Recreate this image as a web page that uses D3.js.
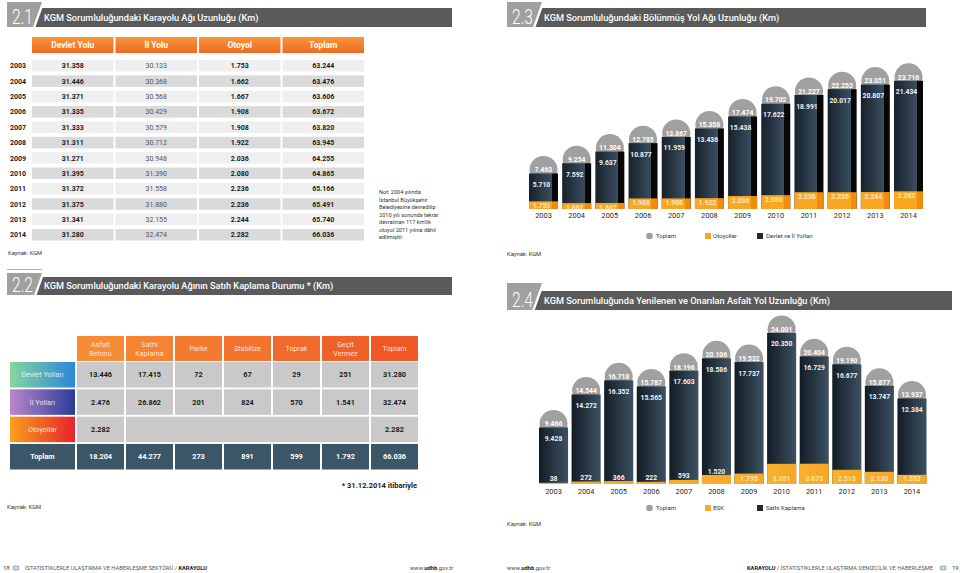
<!DOCTYPE html>
<html><head><meta charset="utf-8">
<script src="https://cdn.jsdelivr.net/npm/d3@7"></script>
<style>
html,body{margin:0;padding:0;background:#fff;}
svg{display:block;font-family:Roboto,"Open Sans",sans-serif;}
</style></head><body>
<svg id="c" width="960" height="573"></svg>
<script>
// ---------- DATA ----------
const years = [2003, 2004, 2005, 2006, 2007, 2008, 2009, 2010, 2011, 2012, 2013, 2014];

// 2.1 Karayolu ağı uzunluğu (km)
const table21Cols = ["Devlet Yolu", "İl Yolu", "Otoyol", "Toplam"];
const devletYolu = [31358, 31446, 31371, 31335, 31333, 31311, 31271, 31395, 31372, 31375, 31341, 31280];
const ilYolu     = [30133, 30368, 30568, 30429, 30579, 30712, 30948, 31390, 31558, 31880, 32155, 32474];
const otoyol     = [1753, 1662, 1667, 1908, 1908, 1922, 2036, 2080, 2236, 2236, 2244, 2282];
const toplam21   = [63244, 63476, 63606, 63672, 63820, 63945, 64255, 64865, 65166, 65491, 65740, 66036];
const note21 = ["Not: 2004 yılında", "İstanbul Büyükşehir", "Belediyesine devredilip", "2010 yılı sonunda tekrar",
  "devralınan 117 km'lik", "otoyol 2011 yılına dâhil", "edilmiştir."];

// 2.2 Satıh kaplama durumu
const surfaceCols = [["Asfalt", "Betonu"], ["Sathi", "Kaplama"], ["Parke"], ["Stabilize"], ["Toprak"], ["Geçit", "Vermez"], ["Toplam"]];
const surfaceRows = ["Devlet Yolları", "İl Yolları", "Otoyollar", "Toplam"];
const devletSurface = [13446, 17415, 72, 67, 29, 251, 31280];
const ilSurface     = [2476, 26862, 201, 824, 570, 1541, 32474];
const otoyolSurface = [2282, null, null, null, null, null, 2282];
const toplamSurface = [18204, 44277, 273, 891, 599, 1792, 66036];

// 2.3 Bölünmüş yol ağı uzunluğu
const bolToplam   = [7463, 9254, 11304, 12785, 13867, 15358, 17474, 19702, 21227, 22253, 23051, 23716];
const bolDevletIl = [5710, 7592, 9637, 10877, 11959, 13436, 15438, 17622, 18991, 20017, 20807, 21434];
const bolOtoyol   = [1753, 1662, 1667, 1908, 1908, 1922, 2036, 2080, 2236, 2236, 2244, 2282];
const legend23 = ["Toplam", "Otoyollar", "Devlet ve İl Yolları"];

// 2.4 Yenilenen ve onarılan asfalt yol
const asfToplam = [9466, 14544, 16718, 15787, 18196, 20106, 19532, 24001, 20404, 19190, 15877, 13937];
const asfSathi  = [9428, 14272, 16352, 15565, 17603, 18586, 17737, 20350, 16729, 16677, 13747, 12384];
const asfBSK    = [38, 272, 366, 222, 593, 1520, 1795, 3651, 3675, 2513, 2130, 1553];
const legend24 = ["Toplam", "BSK", "Sathi Kaplama"];

// ---------- SETUP ----------
const svg = d3.select("#c");
const fmt = d3.formatLocale({decimal: ",", thousands: ".", grouping: [3], currency: ["", ""]}).format(",d");
const defs = svg.append("defs");
function grad(id, stops, x2 = 1, y2 = 0) {
  const g = defs.append("linearGradient").attr("id", id).attr("x1", 0).attr("y1", 0).attr("x2", x2).attr("y2", y2);
  stops.forEach(s => g.append("stop").attr("offset", s[0]).attr("stop-color", s[1]));
}
grad("hdrOrange", [[0, "#f7953b"], [1, "#ee6b22"]], 0, 1);
grad("gDevlet", [[0, "#86d59f"], [1, "#2a87d9"]]);
grad("gIl", [[0, "#bb86cb"], [1, "#283d99"]]);
grad("gOto", [[0, "#f7a01d"], [1, "#e7232b"]]);
grad("dark3", [[0, "#17212b"], [0.79, "#3a4e60"], [0.79, "#070707"], [1, "#070707"]]);
grad("orange3", [[0, "#f9a720"], [0.79, "#f9a720"], [0.79, "#f28a0f"], [1, "#f28a0f"]]);
grad("dark4", [[0, "#131c25"], [1, "#3c5163"]]);
grad("orange4", [[0, "#f9b030"], [1, "#f6a726"]]);

function header(x0, x1, yBox, yBar, yBot, num, title) {
  const s = 0.36, xb = x0 + 35, gap = 2.5;
  svg.append("polygon")
    .attr("points", [[x0, yBox], [xb, yBox], [xb - s * (yBot - yBox), yBot], [x0, yBot]].join(" "))
    .attr("fill", "#a0a0a0");
  svg.append("polygon")
    .attr("points", [[xb - s * (yBar - yBox) + gap, yBar], [x1, yBar], [x1, yBot], [xb - s * (yBot - yBox) + gap, yBot]].join(" "))
    .attr("fill", "#5a5a5a");
  svg.append("text").attr("x", x0 + 5).attr("y", yBot - 3)
    .attr("font-size", 20).attr("font-weight", 300).attr("fill", "#fff")
    .attr("textLength", 21).attr("lengthAdjust", "spacingAndGlyphs").text(num);
  svg.append("text").attr("x", x0 + 37).attr("y", yBar + (yBot - yBar) / 2 + 3.3)
    .attr("font-size", 9.2).attr("font-weight", 500).attr("fill", "#fff").text(title);
}
function smallText(x, y, t, opts = {}) {
  return svg.append("text").attr("x", x).attr("y", y).attr("font-size", opts.size || 6)
    .attr("fill", opts.fill || "#333").attr("text-anchor", opts.anchor || "start")
    .attr("font-weight", opts.weight || 400).text(t);
}

// ---------- 2.1 TABLE ----------
header(7, 452, 2, 8, 27, "2.1", "KGM Sorumluluğundaki Karayolu Ağı Uzunluğu (Km)");
{
  const xc = d3.scaleBand().domain(table21Cols).range([32, 364]).paddingInner(0.024);
  const yr = d3.scaleBand().domain(years).range([60, 240.5]).paddingInner(0.25);
  const g = svg.append("g");
  g.selectAll("rect.h").data(table21Cols).join("rect").attr("class", "h")
    .attr("x", d => xc(d)).attr("y", 37).attr("width", xc.bandwidth()).attr("height", 16)
    .attr("fill", "url(#hdrOrange)");
  g.selectAll("text.h").data(table21Cols).join("text").attr("class", "h")
    .attr("x", d => xc(d) + xc.bandwidth() / 2).attr("y", 48).attr("text-anchor", "middle")
    .attr("font-size", 8.5).attr("font-weight", 700).attr("fill", "#fff").text(d => d);
  const cols = [devletYolu, ilYolu, otoyol, toplam21];
  years.forEach((y, i) => {
    const row = g.append("g");
    row.append("text").attr("x", 10).attr("y", yr(y) + yr.bandwidth() / 2 + 2.6)
      .attr("font-size", 7).attr("font-weight", 700).attr("fill", "#1a1a1a").text(y);
    table21Cols.forEach((c, j) => {
      row.append("rect").attr("x", xc(c)).attr("y", yr(y)).attr("width", xc.bandwidth()).attr("height", yr.bandwidth())
        .attr("fill", i % 2 === 0 ? "#efefef" : "#dadada");
      row.append("text").attr("x", xc(c) + xc.bandwidth() / 2).attr("y", yr(y) + yr.bandwidth() / 2 + 2.6)
        .attr("text-anchor", "middle").attr("font-size", 7)
        .attr("font-weight", j === 1 ? 400 : 700).attr("fill", j === 1 ? "#555" : "#1a1a1a")
        .text(fmt(cols[j][i]));
    });
  });
  note21.forEach((t, i) => smallText(379, 194 + i * 7.5, t, {size: 5.6}));
  smallText(8, 255, "Kaynak: KGM", {size: 5.8});
  svg.append("line").attr("x1", 7).attr("x2", 42).attr("y1", 269.5).attr("y2", 269.5).attr("stroke", "#9a9a9a").attr("stroke-width", 0.8);
}

// ---------- 2.2 TABLE ----------
header(7, 452, 273, 277, 295, "2.2", "KGM Sorumluluğundaki Karayolu Ağının Satıh Kaplama Durumu * (Km)");
{
  const colKeys = surfaceCols.map(c => c.join(" "));
  const xc = d3.scaleBand().domain(colKeys).range([77, 418]).paddingInner(0.041);
  const yr = d3.scaleBand().domain(surfaceRows).range([362, 469.5]).paddingInner(0.066);
  const hdrColor = d3.interpolateRgb("#f68c35", "#ee5826");
  const g = svg.append("g");
  colKeys.forEach((k, j) => {
    g.append("rect").attr("x", xc(k)).attr("y", 336).attr("width", xc.bandwidth()).attr("height", 25)
      .attr("fill", hdrColor(j / 6));
    const lines = surfaceCols[j];
    lines.forEach((l, li) => {
      g.append("text").attr("x", xc(k) + xc.bandwidth() / 2)
        .attr("y", lines.length === 1 ? 351 : 347 + li * 8.5)
        .attr("text-anchor", "middle").attr("font-size", 7.2).attr("fill", "#fde2cd").text(l);
    });
  });
  const rowFill = ["url(#gDevlet)", "url(#gIl)", "url(#gOto)", "#3b5667"];
  const rowData = [devletSurface, ilSurface, otoyolSurface, toplamSurface];
  surfaceRows.forEach((r, i) => {
    const last = i === 3;
    g.append("rect").attr("x", 10).attr("y", yr(r)).attr("width", 65).attr("height", yr.bandwidth()).attr("fill", rowFill[i]);
    g.append("text").attr("x", 42.5).attr("y", yr(r) + yr.bandwidth() / 2 + 2.6).attr("text-anchor", "middle")
      .attr("font-size", 7.3).attr("font-weight", last ? 700 : 400)
      .attr("fill", last ? "#fff" : "rgba(255,255,255,0.82)").text(r);
    const vals = rowData[i];
    if (i === 2) {
      const x0 = xc(colKeys[1]), x1 = xc(colKeys[5]) + xc.bandwidth();
      g.append("rect").attr("x", x0).attr("y", yr(r)).attr("width", x1 - x0).attr("height", yr.bandwidth()).attr("fill", "#c9c9c9");
    }
    vals.forEach((v, j) => {
      if (v === null) return;
      g.append("rect").attr("x", xc(colKeys[j])).attr("y", yr(r)).attr("width", xc.bandwidth()).attr("height", yr.bandwidth())
        .attr("fill", last ? "#3b5667" : "#c9c9c9");
      g.append("text").attr("x", xc(colKeys[j]) + xc.bandwidth() / 2).attr("y", yr(r) + yr.bandwidth() / 2 + 2.6)
        .attr("text-anchor", "middle").attr("font-size", 7.3).attr("font-weight", 700)
        .attr("fill", last ? "#fff" : "#1a1a1a").text(fmt(v));
    });
  });
  smallText(417, 488, "* 31.12.2014 itibariyle", {size: 7.5, weight: 700, anchor: "end", fill: "#222"});
  smallText(7, 509, "Kaynak: KGM", {size: 5.8});
}

// ---------- generic bar chart ----------
function barChart(opt) {
  const x = d3.scaleBand().domain(years).range(opt.xRange).paddingInner(opt.pad);
  const g = svg.append("g");
  const cx = d => x(d) + x.bandwidth() / 2;
  g.selectAll("circle.t").data(years).join("circle").attr("class", "t")
    .attr("cx", d => cx(d)).attr("cy", (d, i) => opt.y(opt.total[i]) - 3.5).attr("r", 14).attr("fill", "#a0a0a0");
  g.selectAll("text.t").data(years).join("text").attr("class", "t")
    .attr("x", d => cx(d)).attr("y", (d, i) => opt.y(opt.total[i]) - 1.2).attr("text-anchor", "middle")
    .attr("font-size", 6.8).attr("font-weight", 700).attr("fill", "#fff").text((d, i) => fmt(opt.total[i]));
  g.selectAll("rect.d").data(years).join("rect").attr("class", "d")
    .attr("x", d => x(d)).attr("width", x.bandwidth())
    .attr("y", (d, i) => opt.y(opt.total[i])).attr("height", (d, i) => opt.base - opt.y(opt.total[i]))
    .attr("fill", opt.darkFill);
  g.selectAll("text.d").data(years).join("text").attr("class", "d")
    .attr("x", d => cx(d) - (opt.darkShift || 0)).attr("y", (d, i) => opt.y(opt.total[i]) + 13.5).attr("text-anchor", "middle")
    .attr("font-size", 6.8).attr("font-weight", 700).attr("fill", "#eef2f5").text((d, i) => fmt(opt.dark[i]));
  g.selectAll("rect.o").data(years).join("rect").attr("class", "o")
    .attr("x", d => x(d)).attr("width", x.bandwidth())
    .attr("y", (d, i) => opt.yo(opt.orange[i])).attr("height", (d, i) => opt.base - opt.yo(opt.orange[i]))
    .attr("fill", opt.orangeFill);
  g.selectAll("text.o").data(years).join("text").attr("class", "o")
    .attr("x", d => cx(d) - (opt.darkShift || 0)).attr("y", (d, i) => opt.orangeLabelY(opt.orange[i]))
    .attr("text-anchor", "middle").attr("font-size", 6.8).attr("font-weight", 700)
    .attr("fill", (d, i) => opt.orangeLabelFill(opt.orange[i])).text((d, i) => fmt(opt.orange[i]));
  const ax = g.append("g").attr("transform", `translate(0,${opt.base})`)
    .call(d3.axisBottom(x).tickSize(0).tickPadding(opt.yearPad));
  ax.select(".domain").remove();
  ax.selectAll("text").attr("font-size", 7.4).attr("fill", "#2a2a2a").attr("font-family", "Roboto,sans-serif");
  const L = g.append("g").attr("transform", `translate(0,${opt.legendY})`);
  L.append("circle").attr("cx", 649.5).attr("cy", 0).attr("r", 3.3).attr("fill", "#a0a0a0");
  L.append("text").attr("x", 656).attr("y", 2.2).attr("font-size", 6).attr("fill", "#333").text(opt.legend[0]);
  L.append("rect").attr("x", 705).attr("y", -3).attr("width", 6).attr("height", 6).attr("fill", opt.legendOrange);
  L.append("text").attr("x", 713).attr("y", 2.2).attr("font-size", 6).attr("fill", "#333").text(opt.legend[1]);
  L.append("rect").attr("x", 757).attr("y", -3).attr("width", 6).attr("height", 6).attr("fill", "#1e2a35");
  L.append("text").attr("x", 766).attr("y", 2.2).attr("font-size", 6).attr("fill", "#333").text(opt.legend[2]);
}

// ---------- 2.3 CHART ----------
header(507, 926, 2, 8, 27, "2.3", "KGM Sorumluluğundaki Bölünmüş Yol Ağı Uzunluğu (Km)");
{
  const base = 209;
  const y = d3.scaleLinear().domain([0, 24000]).range([base + 7, base + 7 - 5.7 * 24]);
  const yo = d3.scaleLinear().domain([1350, 2300]).range([base, base - 18]);
  barChart({
    xRange: [529, 923], pad: 0.127, base, y, yo,
    total: bolToplam, dark: bolDevletIl, orange: bolOtoyol,
    darkFill: "url(#dark3)", orangeFill: "url(#orange3)", darkShift: 2,
    orangeLabelY: v => yo(v) + 7, orangeLabelFill: () => "#fde7c2",
    yearPad: 4, legendY: 236, legend: legend23, legendOrange: "#f9a720"
  });
  smallText(507, 256, "Kaynak: KGM", {size: 5.8});
}

// ---------- 2.4 CHART ----------
header(507, 952, 283, 291, 310, "2.4", "KGM Sorumluluğunda Yenilenen ve Onarılan Asfalt Yol Uzunluğu (Km)");
{
  const base = 484;
  const y = d3.scaleLinear().domain([0, 25000]).range([base + 5, base + 5 - 6.5 * 25]);
  const yo = d3.scaleLinear().domain([0, 4000]).range([base - 1, base - 22]);
  barChart({
    xRange: [539, 926.5], pad: 0.108, base, y, yo,
    total: asfToplam, dark: asfSathi, orange: asfBSK,
    darkFill: "url(#dark4)", orangeFill: "url(#orange4)", darkShift: 0,
    orangeLabelY: v => v < 1550 ? yo(v) - 1.5 : base - 3.5,
    orangeLabelFill: v => v < 1550 ? "#f4f4f4" : "#fde3b0",
    yearPad: 5, legendY: 508, legend: legend24, legendOrange: "#f8ac2a"
  });
  smallText(507, 526, "Kaynak: KGM", {size: 5.8});
}

// ---------- FOOTERS ----------
function icon(x, y) {
  const g = svg.append("g").attr("transform", `translate(${x},${y})`);
  g.append("ellipse").attr("rx", 3.6).attr("ry", 2.8).attr("fill", "#9fb2c2");
  g.append("path").attr("d", "M-3.6,0 L3.6,0 M0,-2.8 L0,2.8").attr("stroke", "#fff").attr("stroke-width", 0.6);
}
smallText(3, 570, "18", {size: 6, fill: "#444"});
icon(16, 568);
{
  const t = svg.append("text").attr("x", 25).attr("y", 570).attr("font-size", 5.6).attr("fill", "#555")
    .attr("textLength", 182).attr("lengthAdjust", "spacingAndGlyphs");
  t.append("tspan").text("İSTATİSTİKLERLE ULAŞTIRMA VE HABERLEŞME SEKTÖRÜ / ");
  t.append("tspan").attr("font-weight", 700).attr("fill", "#222").text("KARAYOLU");
  const w = svg.append("text").attr("x", 410).attr("y", 570).attr("font-size", 5.8).attr("fill", "#444");
  w.append("tspan").text("www.");
  w.append("tspan").attr("font-weight", 700).attr("fill", "#222").text("udhb");
  w.append("tspan").text(".gov.tr");
  const w2 = svg.append("text").attr("x", 507).attr("y", 570).attr("font-size", 5.8).attr("fill", "#444");
  w2.append("tspan").text("www.");
  w2.append("tspan").attr("font-weight", 700).attr("fill", "#222").text("udhb");
  w2.append("tspan").text(".gov.tr");
  const r = svg.append("text").attr("x", 747).attr("y", 570).attr("font-size", 5.6).attr("fill", "#555")
    .attr("textLength", 186).attr("lengthAdjust", "spacingAndGlyphs");
  r.append("tspan").attr("font-weight", 700).attr("fill", "#222").text("KARAYOLU");
  r.append("tspan").text(" / İSTATİSTİKLERLE ULAŞTIRMA DENİZCİLİK VE HABERLEŞME");
}
icon(943, 568);
smallText(952, 570, "19", {size: 6, fill: "#444"});
</script>
</body></html>
